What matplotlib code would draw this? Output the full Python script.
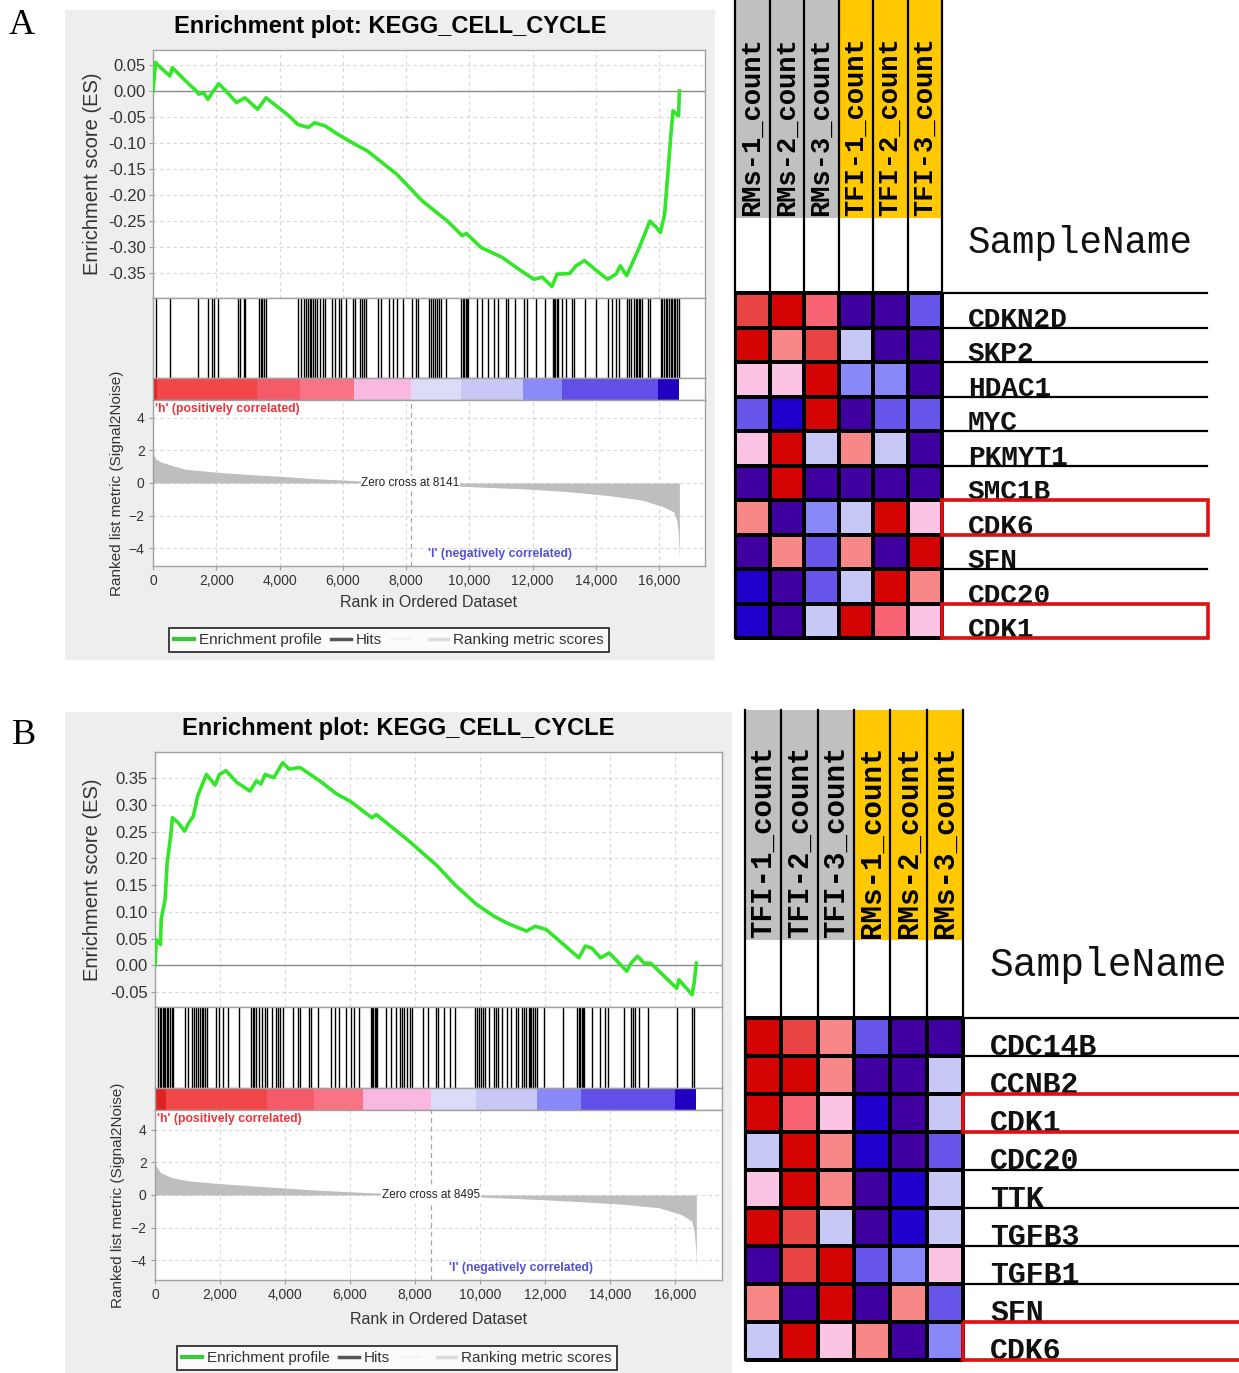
import numpy as np
import matplotlib
matplotlib.use('Agg')
import matplotlib.pyplot as plt
from matplotlib.patches import Rectangle
from matplotlib.lines import Line2D
from matplotlib.colors import ListedColormap, BoundaryNorm
from matplotlib.ticker import FuncFormatter

plt.rcParams['font.family'] = ['Liberation Sans', 'DejaVu Sans']

W, H = 1239, 1373

# ======================= DATA =======================
gsea_title = "Enrichment plot: KEGG_CELL_CYCLE"
x_ticks = [0, 2000, 4000, 6000, 8000, 10000, 12000, 14000, 16000]
metric_ticks = [-4, -2, 0, 2, 4]

# ---- Panel A : running enrichment score ----
es_rank_A = [0, 80, 120, 533, 613, 1040, 1373, 1440, 1600, 1733, 1907, 2080, 2307, 2640,
             2907, 3307, 3573, 3973, 4307, 4573, 4907, 5107, 5440, 5840, 6373, 6773,
             7707, 8507, 9307, 9773, 9907, 10373, 11040, 11573, 12040, 12307, 12613,
             12773, 13173, 13373, 13640, 13973, 14373, 14640, 14773, 14973, 15373,
             15707, 15907, 16040, 16173, 16240, 16373, 16440, 16613, 16640]
es_val_A = [0.0, 0.055, 0.052, 0.029, 0.045, 0.019, 0.0, -0.006, -0.003, -0.016, 0.0,
            0.014, 0.0, -0.022, -0.013, -0.035, -0.013, -0.032, -0.048, -0.064, -0.070,
            -0.061, -0.067, -0.083, -0.102, -0.115, -0.160, -0.211, -0.250, -0.278,
            -0.274, -0.301, -0.320, -0.343, -0.362, -0.358, -0.376, -0.352, -0.351,
            -0.336, -0.326, -0.343, -0.362, -0.352, -0.336, -0.355, -0.301, -0.250,
            -0.262, -0.272, -0.237, -0.186, -0.083, -0.038, -0.048, 0.0]
es_ticks_A = [-0.35, -0.30, -0.25, -0.20, -0.15, -0.10, -0.05, 0.00, 0.05]

hits_A = [107, 547, 1415, 1736, 1869, 1923, 2069, 2684, 2750, 2884, 2910, 3364, 3418,
          3458, 3511, 3578, 4580, 4673, 4780, 4846, 4913, 4953, 5006, 5073, 5113, 5180,
          5273, 5367, 5447, 5647, 5740, 5874, 5954, 6114, 6315, 6381, 6542, 6622, 6675,
          6742, 7116, 7209, 7449, 7583, 7716, 7917, 8184, 8317, 8384, 8718, 8784, 8851,
          8918, 8985, 9051, 9118, 9252, 9746, 9786, 9826, 9879, 9919, 9959, 10253, 10386,
          10587, 10787, 10894, 11161, 11214, 11428, 11722, 11829, 12122, 12389, 12656,
          12683, 12723, 12763, 12790, 12923, 13056, 13257, 13297, 13657, 14018, 14392,
          14525, 14632, 14725, 14992, 15059, 15126, 15193, 15259, 15299, 15353, 15393,
          15460, 15660, 15700, 16061, 16101, 16155, 16208, 16262, 16315, 16368, 16422,
          16462, 16502, 16555, 16635]

metric_rank_A = [0, 30, 100, 240, 640, 1040, 1975, 3040, 3980, 5050, 6380, 7316, 8141,
                 9850, 11720, 13060, 14390, 15460, 16130, 16460, 16560, 16610, 16640]
metric_val_A = [2.0, 1.7, 1.45, 1.3, 1.05, 0.84, 0.67, 0.52, 0.42, 0.27, 0.15, 0.05, 0.0,
                -0.21, -0.36, -0.52, -0.77, -1.05, -1.46, -1.78, -2.3, -3.2, -4.7]
zero_cross_A = 8141

band_edges_A = [0, 120, 3300, 4650, 6350, 8150, 9730, 11700, 12930, 15970, 16640]
band_colors_A = ['#E42424', '#F04848', '#F45A68', '#F87484', '#F8B8E0', '#DCDCF8',
                 '#C8C8F6', '#8A8AF8', '#6050E8', '#2200C0']

# ---- Panel B : running enrichment score ----
es_rank_B = [0, 40, 134, 170, 190, 310, 375, 483, 536, 710, 912, 1046, 1180, 1314, 1582,
             1850, 1984, 2185, 2520, 2922, 3123, 3257, 3391, 3660, 3928, 4129, 4464, 5067,
             5603, 6005, 6676, 6810, 7748, 8686, 9223, 9893, 10429, 10831, 11434, 11702,
             12037, 12574, 13043, 13244, 13445, 13713, 13981, 14517, 14651, 14852, 15053,
             15254, 16058, 16125, 16527, 16594, 16661]
es_val_B = [0.0, 0.048, 0.042, 0.039, 0.086, 0.123, 0.192, 0.242, 0.276, 0.267, 0.251,
            0.267, 0.279, 0.317, 0.357, 0.337, 0.357, 0.364, 0.342, 0.326, 0.345, 0.339,
            0.357, 0.351, 0.379, 0.367, 0.370, 0.345, 0.320, 0.307, 0.276, 0.282, 0.236,
            0.186, 0.151, 0.114, 0.092, 0.079, 0.064, 0.073, 0.067, 0.039, 0.014, 0.036,
            0.032, 0.014, 0.023, -0.011, 0.004, 0.017, 0.004, 0.004, -0.043, -0.027,
            -0.055, -0.033, 0.004]
es_ticks_B = [-0.05, 0.00, 0.05, 0.10, 0.15, 0.20, 0.25, 0.30, 0.35]

hits_B = [107, 147, 188, 241, 281, 322, 375, 415, 456, 509, 549, 911, 1005, 1152, 1206,
          1260, 1313, 1380, 1447, 1487, 1554, 1608, 1876, 1956, 2090, 2251, 2586, 2948,
          3002, 3055, 3122, 3216, 3296, 3390, 3457, 3591, 3725, 3792, 3859, 3926, 4261,
          4395, 4462, 4730, 4797, 5025, 5427, 5534, 5668, 5869, 6030, 6110, 6271, 6646,
          6673, 6713, 6767, 6807, 6847, 7102, 7276, 7410, 7544, 7611, 7678, 7745, 7852,
          7906, 8254, 8415, 8656, 8723, 8884, 9085, 9246, 9862, 9916, 9970, 10023, 10090,
          10157, 10291, 10425, 10492, 10559, 10666, 10827, 10961, 11095, 11162, 11296,
          11363, 11430, 11497, 11537, 11578, 11631, 11698, 11765, 11966, 12569, 12998,
          13038, 13078, 13132, 13172, 13212, 13440, 13708, 13842, 13936, 14445, 14646,
          14713, 14780, 14887, 15182, 16053, 16522, 16589]

metric_rank_B = [0, 30, 174, 509, 1045, 1983, 3055, 3993, 5065, 6405, 7745, 8495, 10425,
                 11765, 13105, 14445, 15517, 16187, 16522, 16600, 16640, 16660]
metric_val_B = [2.2, 1.8, 1.37, 1.07, 0.86, 0.70, 0.55, 0.43, 0.29, 0.16, 0.06, 0.0, -0.16,
                -0.27, -0.41, -0.57, -0.78, -1.19, -1.6, -2.3, -3.3, -4.5]
zero_cross_B = 8495

band_edges_B = [0, 350, 3460, 4900, 6400, 8480, 9890, 11765, 13105, 15990, 16660]
band_colors_B = ['#E02222', '#F04848', '#F45A68', '#F87484', '#F8B8E0', '#DCDCF8',
                 '#C8C8F6', '#8888F8', '#6050E8', '#2200C0']

# ---- Heatmaps (binned expression level, 0 = lowest ... 9 = highest) ----
level_colors = ['#2200CC', '#4000A0', '#6655E8', '#8888F8', '#C8C8F6',
                '#FCC4E4', '#F88888', '#F86474', '#E84444', '#D40404']

samples_A = ['RMs-1_count', 'RMs-2_count', 'RMs-3_count',
             'TFI-1_count', 'TFI-2_count', 'TFI-3_count']
sample_colors_A = ['#C0C0C0', '#C0C0C0', '#C0C0C0', '#FFC800', '#FFC800', '#FFC800']
genes_A = ['CDKN2D', 'SKP2', 'HDAC1', 'MYC', 'PKMYT1', 'SMC1B', 'CDK6', 'SFN', 'CDC20', 'CDK1']
levels_A = [[8, 9, 7, 1, 1, 2],
            [9, 6, 8, 4, 1, 1],
            [5, 5, 9, 3, 3, 1],
            [2, 0, 9, 1, 2, 2],
            [5, 9, 4, 6, 4, 1],
            [1, 9, 1, 1, 1, 1],
            [6, 1, 3, 4, 9, 5],
            [1, 6, 2, 6, 1, 9],
            [0, 1, 2, 4, 9, 6],
            [0, 1, 4, 9, 7, 5]]
boxed_A = ['CDK6', 'CDK1']

samples_B = ['TFI-1_count', 'TFI-2_count', 'TFI-3_count',
             'RMs-1_count', 'RMs-2_count', 'RMs-3_count']
sample_colors_B = ['#C0C0C0', '#C0C0C0', '#C0C0C0', '#FFC800', '#FFC800', '#FFC800']
genes_B = ['CDC14B', 'CCNB2', 'CDK1', 'CDC20', 'TTK', 'TGFB3', 'TGFB1', 'SFN', 'CDK6']
levels_B = [[9, 8, 6, 2, 1, 1],
            [9, 9, 6, 1, 1, 4],
            [9, 7, 5, 0, 1, 4],
            [4, 9, 6, 0, 1, 2],
            [5, 9, 6, 1, 0, 4],
            [9, 8, 4, 1, 0, 4],
            [1, 8, 9, 2, 3, 5],
            [6, 1, 9, 1, 6, 2],
            [4, 9, 5, 6, 1, 3]]
boxed_B = ['CDK1', 'CDK6']

# ======================= FIGURE =======================
fig = plt.figure(figsize=(W / 100, H / 100), dpi=100)
fig.patch.set_facecolor('white')


def px_axes(x0, y0, x1, y1):
    return fig.add_axes([x0 / W, 1 - y1 / H, (x1 - x0) / W, (y1 - y0) / H])


def fx(x):
    return x / W


def fy(y):
    return 1 - y / H


XMAX = 17450
GRID = dict(color='#D6D6D6', lw=0.8, ls=(0, (3, 3)))
SPINE = '#A0A0A0'


def style_spines(ax):
    for s in ax.spines.values():
        s.set_color(SPINE)
        s.set_linewidth(1.0)


def draw_gsea(box, es_box, hits_box, cbar_box, rank_box, es_rank, es_val, es_ticks,
              es_ylim, hits, mrank, mval, zc, m_ylim, edges, colors, title_y,
              eslab_x, rklab_x, xlab_y, leg_c):
    # gray panel background
    fig.patches.append(Rectangle((fx(box[0]), fy(box[3])), fx(box[2] - box[0]),
                                 (box[3] - box[1]) / H, transform=fig.transFigure,
                                 facecolor='#EEEEEE', edgecolor='none', zorder=-10))
    fig.text(fx((box[0] + box[2]) / 2), fy(title_y), gsea_title, ha='center', va='center',
             fontsize=17, fontweight='bold', color='black')

    # --- ES ---
    ax = px_axes(*es_box)
    ax.plot(es_rank, es_val, color='#33E62A', lw=2.6, zorder=3)
    ax.axhline(0, color='#8A8A8A', lw=1.0, zorder=2)
    ax.set_xlim(0, XMAX)
    ax.set_ylim(*es_ylim)
    ax.set_xticks(x_ticks)
    ax.set_yticks(es_ticks)
    ax.yaxis.set_major_formatter(FuncFormatter(lambda v, p: f'{v:.2f}'))
    ax.tick_params(axis='x', length=0, labelbottom=False)
    ax.tick_params(axis='y', length=3, color=SPINE, labelsize=12, labelcolor='#333333', pad=2)
    ax.grid(True, **GRID)
    ax.set_axisbelow(True)
    style_spines(ax)
    fig.text(fx(eslab_x), fy((es_box[1] + es_box[3]) / 2), 'Enrichment score (ES)',
             rotation=90, ha='center', va='center', fontsize=14.5, color='#333333')

    # --- hits ---
    ah = px_axes(*hits_box)
    ah.vlines(hits, 0, 1, color='black', lw=1.0)
    ah.set_xlim(0, XMAX)
    ah.set_ylim(0, 1)
    ah.set_xticks([])
    ah.set_yticks([])
    style_spines(ah)

    # --- colour band ---
    ac = px_axes(*cbar_box)
    ac.barh(0.5, width=np.diff(edges), left=edges[:-1], height=1, color=colors,
            edgecolor='none')
    ac.set_xlim(0, XMAX)
    ac.set_ylim(0, 1)
    ac.set_xticks([])
    ac.set_yticks([])
    style_spines(ac)

    # --- ranked metric ---
    ar = px_axes(*rank_box)
    ar.fill_between(mrank, mval, 0, color='#BEBEBE', lw=0, zorder=2)
    ar.axvline(zc, color='#A8A8A8', lw=0.9, ls=(0, (4, 3)), zorder=3)
    ar.set_xlim(0, XMAX)
    ar.set_ylim(*m_ylim)
    ar.set_xticks(x_ticks)
    ar.set_yticks(metric_ticks)
    ar.xaxis.set_major_formatter(FuncFormatter(lambda v, p: f'{int(v):,}'))
    ar.tick_params(length=3, color=SPINE, labelsize=10, labelcolor='#333333', pad=3)
    ar.grid(True, **GRID)
    ar.set_axisbelow(True)
    style_spines(ar)
    ar.text(zc, 0, f'Zero cross at {zc}', ha='center', va='center', fontsize=8.5,
            color='#222222', zorder=4,
            bbox=dict(facecolor='white', edgecolor='none', pad=0.6))
    ar.text(60, m_ylim[1] - 0.55, "'h' (positively correlated)", ha='left', va='center',
            fontsize=8.8, fontweight='bold', color='#E8343C', zorder=4)
    ar.text(zc + 550, m_ylim[0] + 0.75, "'l' (negatively correlated)", ha='left',
            va='center', fontsize=8.8, fontweight='bold', color='#5050D8', zorder=4)
    fig.text(fx(rklab_x), fy((rank_box[1] + rank_box[3]) / 2),
             'Ranked list metric (Signal2Noise)', rotation=90, ha='center', va='center',
             fontsize=11, color='#333333')
    fig.text(fx((rank_box[0] + rank_box[2]) / 2), fy(xlab_y), 'Rank in Ordered Dataset',
             ha='center', va='center', fontsize=11.5, color='#333333')

    handles = [Line2D([], [], color='#33CC33', lw=3),
               Line2D([], [], color='#555555', lw=2.5),
               Line2D([], [], color='#F2F2F2', lw=1.5),
               Line2D([], [], color='#DDDDDD', lw=2.5)]
    labels = ['Enrichment profile', 'Hits', ' ', 'Ranking metric scores']
    leg = fig.legend(handles, labels, loc='center',
                     bbox_to_anchor=(fx(leg_c[0]), fy(leg_c[1])), ncol=4, frameon=True,
                     fancybox=False, fontsize=11, handlelength=1.3, handletextpad=0.3,
                     columnspacing=0.6, borderpad=0.35, borderaxespad=0)
    leg.get_frame().set_edgecolor('black')
    leg.get_frame().set_linewidth(1.3)
    leg.get_frame().set_facecolor('white')
    for t in leg.get_texts():
        t.set_color('#333333')


draw_gsea(box=(65, 10, 715, 660), es_box=(153, 50, 705, 298), hits_box=(153, 298, 705, 378),
          cbar_box=(153, 378, 705, 400), rank_box=(153, 400, 705, 566),
          es_rank=es_rank_A, es_val=es_val_A, es_ticks=es_ticks_A, es_ylim=(-0.398, 0.079),
          hits=hits_A, mrank=metric_rank_A, mval=metric_val_A, zc=zero_cross_A,
          m_ylim=(-5.1, 5.1), edges=band_edges_A, colors=band_colors_A, title_y=27,
          eslab_x=92, rklab_x=117, xlab_y=603, leg_c=(389, 640))

draw_gsea(box=(65, 712, 732, 1373), es_box=(155, 752, 722, 1007),
          hits_box=(155, 1007, 722, 1088), cbar_box=(155, 1088, 722, 1110),
          rank_box=(155, 1110, 722, 1280),
          es_rank=es_rank_B, es_val=es_val_B, es_ticks=es_ticks_B, es_ylim=(-0.078, 0.399),
          hits=hits_B, mrank=metric_rank_B, mval=metric_val_B, zc=zero_cross_B,
          m_ylim=(-5.2, 5.2), edges=band_edges_B, colors=band_colors_B, title_y=728,
          eslab_x=92, rklab_x=118, xlab_y=1320, leg_c=(397, 1358))

# panel letters
fig.text(fx(22), fy(26), 'A', fontsize=26, family=['Liberation Serif', 'DejaVu Serif'],
         ha='center', va='center')
fig.text(fx(24), fy(735), 'B', fontsize=26, family=['Liberation Serif', 'DejaVu Serif'],
         ha='center', va='center')

# ======================= HEATMAPS =======================
cmap = ListedColormap(level_colors)
norm = BoundaryNorm(np.arange(-0.5, len(level_colors) + 0.5, 1), cmap.N)
MONO = ['Liberation Mono', 'DejaVu Sans Mono']


def draw_heat(ax_px, heat_left, heat_right, heat_top, heat_bottom, hdr_top, hdr_bot,
              label_end, samples, scol, genes, levels, boxed, name_xy, fs_name, fs_gene,
              fs_hdr, gene_dx):
    ncol = len(samples)
    nrow = len(genes)
    cw = (heat_right - heat_left) / ncol
    rh = (heat_bottom - heat_top) / nrow
    ax = px_axes(*ax_px)
    ax.set_xlim((ax_px[0] - heat_left) / cw, (ax_px[2] - heat_left) / cw)
    ax.set_ylim((ax_px[3] - heat_top) / rh, (ax_px[1] - heat_top) / rh)
    ax.axis('off')
    yt = (hdr_top - heat_top) / rh
    yb = (hdr_bot - heat_top) / rh
    xe = (label_end - heat_left) / cw
    for j in range(ncol):
        ax.add_patch(Rectangle((j, yt), 1, yb - yt, facecolor=scol[j], edgecolor='none',
                               zorder=1))
        ax.text(j + 0.5, yb - 0.05, samples[j], rotation=90, ha='center', va='bottom',
                fontsize=fs_hdr, family=MONO, fontweight='bold', color='black', zorder=3)
    ax.pcolormesh(np.arange(ncol + 1), np.arange(nrow + 1), np.array(levels), cmap=cmap,
                  norm=norm, edgecolors='black', linewidth=1.6, zorder=2)
    for j in range(ncol + 1):
        ax.plot([j, j], [yt, nrow], color='black', lw=1.6, zorder=4, clip_on=False)
    for i in range(nrow + 1):
        ax.plot([ncol, xe], [i, i], color='black', lw=1.6, zorder=4, clip_on=False)
    for i, g in enumerate(genes):
        ax.text(ncol + gene_dx / cw, i + 0.98, g, ha='left', va='baseline', fontsize=fs_gene,
                family=MONO, fontweight='bold', color='#111111', zorder=3)
        if g in boxed:
            ax.add_patch(Rectangle((ncol, i), xe - ncol + 0.03, 1, fill=False,
                                   edgecolor='#E01010', lw=2.6, zorder=5, clip_on=False))
    ax.text((name_xy[0] - heat_left) / cw, (name_xy[1] - heat_top) / rh, 'SampleName',
            ha='left', va='center', fontsize=fs_name, family=MONO, color='#111111')


draw_heat(ax_px=(735, 0, 1239, 645), heat_left=735, heat_right=942, heat_top=293,
          heat_bottom=638, hdr_top=0, hdr_bot=218, label_end=1207, samples=samples_A,
          scol=sample_colors_A, genes=genes_A, levels=levels_A, boxed=boxed_A,
          name_xy=(968, 243), fs_name=27, fs_gene=20, fs_hdr=19.5, gene_dx=26)

draw_heat(ax_px=(745, 705, 1239, 1373), heat_left=745, heat_right=963, heat_top=1018,
          heat_bottom=1360, hdr_top=710, hdr_bot=940, label_end=1245, samples=samples_B,
          scol=sample_colors_B, genes=genes_B, levels=levels_B, boxed=boxed_B,
          name_xy=(990, 965), fs_name=28.5, fs_gene=21.5, fs_hdr=21, gene_dx=27)

fig.savefig('out.png', dpi=100)
